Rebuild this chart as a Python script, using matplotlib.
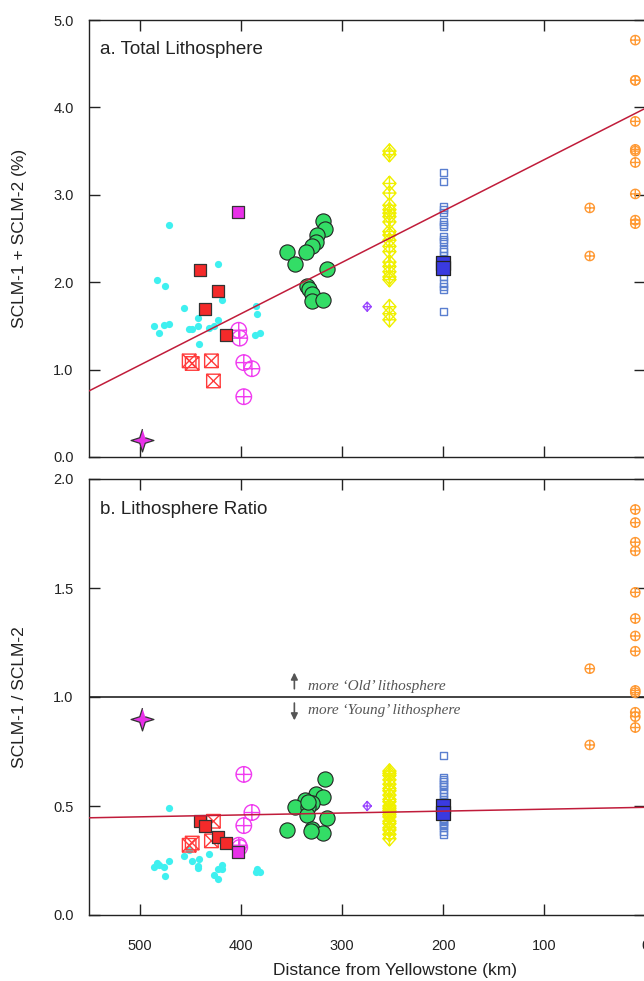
import numpy as np
import matplotlib
matplotlib.use("Agg")
import matplotlib.pyplot as plt
from matplotlib.path import Path

plt.rcParams['font.family'] = ['Liberation Sans', 'DejaVu Sans']

# ---- data (distance in km, a = SCLM-1 + SCLM-2 (%), b = SCLM-1 / SCLM-2) ----
cyan_km_a = [470.6, 422.8, 483.1, 474.9, 418.9, 385.2, 383.7, 456.4, 442.3, 422.8, 485.5,
             475.9, 470.9, 481.1, 450.9, 448.5, 442.3, 431.1, 426.5, 441.3, 385.9, 381.0]
cyan_a = [2.66, 2.21, 2.03, 1.96, 1.80, 1.73, 1.64, 1.70, 1.59, 1.57, 1.50,
          1.51, 1.52, 1.42, 1.46, 1.46, 1.50, 1.48, 1.50, 1.29, 1.40, 1.42]
cyan_km_b = [470.6, 485.5, 483.1, 480.8, 475.9, 474.9, 470.9, 456.1, 450.9, 448.2, 442.0,
             442.0, 441.0, 431.1, 426.5, 422.8, 422.8, 418.9, 418.6, 385.2, 381.0, 383.7]
cyan_b = [0.49, 0.22, 0.24, 0.23, 0.22, 0.18, 0.25, 0.27, 0.30, 0.25, 0.225,
          0.217, 0.257, 0.278, 0.185, 0.165, 0.211, 0.211, 0.229, 0.196, 0.196, 0.21]

red_km = [440, 435, 422, 415]
red_a = [2.14, 1.69, 1.90, 1.40]
red_b = [0.43, 0.41, 0.36, 0.33]

magsq_km = [403]
magsq_a = [2.80]
magsq_b = [0.29]

xsq_km = [451, 448, 429, 427]
xsq_a = [1.10, 1.07, 1.10, 0.87]
xsq_b = [0.32, 0.33, 0.34, 0.43]

magop_km = [402, 401, 397, 389, 397]
magop_a = [1.45, 1.36, 1.08, 1.01, 0.69]
magop_b = [0.32, 0.31, 0.645, 0.47, 0.41]

star_km = [498]
star_a = [0.19]
star_b = [0.90]

green_km_a = [318.4, 316.7, 325.0, 326.0, 329.9, 335.8, 354.0, 346.1, 314.8, 334.2, 332.6, 329.9, 329.6, 318.4]
green_a = [2.70, 2.61, 2.54, 2.46, 2.41, 2.35, 2.35, 2.21, 2.15, 1.96, 1.92, 1.86, 1.78, 1.80]
green_km_b = [316.5, 326.0, 318.4, 336.5, 329.9, 346.4, 333.9, 334.2, 315.1, 354.6, 329.9, 318.7, 333.3, 331.0]
green_b = [0.624, 0.553, 0.543, 0.528, 0.512, 0.497, 0.497, 0.46, 0.445, 0.391, 0.393, 0.378, 0.52, 0.387]

purple_km = [275]
purple_a = [1.72]
purple_b = [0.50]

yellow_km = 253
yellow_a = [3.50, 3.46, 3.13, 3.02, 2.88, 2.83, 2.79, 2.75, 2.69, 2.58, 2.54,
            2.48, 2.41, 2.35, 2.23, 2.18, 2.12, 2.06, 2.03, 1.72, 1.64, 1.57]
yellow_b = [0.66, 0.65, 0.64, 0.62, 0.60, 0.58, 0.57, 0.55, 0.53, 0.52, 0.50,
            0.49, 0.48, 0.47, 0.46, 0.45, 0.43, 0.42, 0.40, 0.39, 0.37, 0.35]

blue_km = 200
blue_a = [3.26, 3.15, 2.86, 2.83, 2.80, 2.69, 2.66, 2.64, 2.52, 2.49, 2.46, 2.39,
          2.35, 2.31, 2.25, 2.21, 2.17, 2.14, 2.06, 1.98, 1.95, 1.92, 1.66]
blue_b = [0.73, 0.63, 0.62, 0.61, 0.60, 0.59, 0.575, 0.56, 0.545, 0.53, 0.52, 0.50,
          0.49, 0.47, 0.46, 0.45, 0.44, 0.43, 0.42, 0.41, 0.40, 0.385, 0.37]
bluefill_a = [2.22, 2.16]
bluefill_b = [0.50, 0.47]

orange_km_near = 10
orange_km_far = 55
orange_near_a = [4.77, 4.31, 4.31, 3.84, 3.52, 3.50, 3.37, 3.01, 2.71, 2.67]
orange_far_a = [2.85, 2.30]
orange_near_b = [1.86, 1.80, 1.71, 1.67, 1.48, 1.36, 1.28, 1.21, 1.03, 1.02, 0.93, 0.91, 0.86]
orange_far_b = [1.13, 0.78]

# regression lines (intercept at 0 km, slope per km)
fit_a = (3.99, -0.00588)
fit_b = (0.494, -0.0000875)

# ---- custom markers ----
M, L, C = Path.MOVETO, Path.LINETO, Path.CLOSEPOLY
circle_plus = Path.make_compound_path(Path.unit_circle(),
                                      Path([(-1, 0), (1, 0)], [M, L]),
                                      Path([(0, -1), (0, 1)], [M, L]))
square_x = Path([(-1, -1), (1, -1), (1, 1), (-1, 1), (-1, -1), (-1, -1), (1, 1), (-1, 1), (1, -1)],
                [M, L, L, L, C, M, L, M, L])
diamond_plus = Path([(0, 1), (0.9, 0), (0, -1), (-0.9, 0), (0, 1), (-0.9, 0), (0.9, 0), (0, -1), (0, 1)],
                    [M, L, L, L, C, M, L, M, L])
ang = np.deg2rad(np.arange(0, 360, 45) + 90)
rad = np.array([1, 0.34] * 4)
star4 = Path(np.column_stack([rad * np.cos(ang), rad * np.sin(ang)]), closed=False)


def draw(ax, cyan_km, cyan, red, magsq, xsq, magop, star, green_km, green, purple, yellow, blue,
         bluefill, onear, ofar):
    ax.scatter(cyan_km, cyan, s=27, c='#3ff0f0', linewidths=0, zorder=3)
    ax.scatter(xsq_km, xsq, s=95, marker=square_x, facecolors='none', edgecolors='#ff3b3b', linewidths=1, zorder=3)
    ax.scatter(magop_km, magop, s=125, marker=circle_plus, facecolors='none', edgecolors='#f03cf0', linewidths=1, zorder=3)
    ax.scatter(red_km, red, s=85, marker='s', c='#f42a2a', edgecolors='#333333', linewidths=0.9, zorder=4)
    ax.scatter(magsq_km, magsq, s=85, marker='s', c='#e830e8', edgecolors='#333333', linewidths=0.9, zorder=4)
    ax.scatter(star_km, star, s=270, marker=star4, c='#e830e8', edgecolors='#333333', linewidths=0.9, zorder=4)
    ax.scatter(green_km, green, s=120, c='#33dd66', edgecolors='#222222', linewidths=0.8, zorder=4)
    ax.scatter(purple_km, purple, s=45, marker=diamond_plus, facecolors='none', edgecolors='#9944ff', linewidths=0.9, zorder=3)
    ax.scatter([yellow_km] * len(yellow), yellow, s=110, marker=diamond_plus, facecolors='none',
               edgecolors='#f0f000', linewidths=1, zorder=3)
    ax.scatter([blue_km] * len(blue), blue, s=26, marker='s', facecolors='none', edgecolors='#5a7fd0', linewidths=1, zorder=3)
    ax.scatter([blue_km] * len(bluefill), bluefill, s=90, marker='s', c='#3a3ae0', edgecolors='#222222', linewidths=0.9, zorder=4)
    ax.scatter([orange_km_near] * len(onear), onear, s=45, marker=circle_plus, facecolors='none',
               edgecolors='#ff9933', linewidths=1, zorder=3)
    ax.scatter([orange_km_far] * len(ofar), ofar, s=45, marker=circle_plus, facecolors='none',
               edgecolors='#ff9933', linewidths=1, zorder=3)


fig = plt.figure(figsize=(6.44, 9.81), dpi=100)
W, H = 644, 981
left, right = 89, 645.4
ax1 = fig.add_axes([left / W, 1 - 457 / H, (right - left) / W, 437 / H])
ax2 = fig.add_axes([left / W, 1 - 915 / H, (right - left) / W, 436 / H])

draw(ax1, cyan_km_a, cyan_a, red_a, magsq_a, xsq_a, magop_a, star_a, green_km_a, green_a, purple_a,
     yellow_a, blue_a, bluefill_a, orange_near_a, orange_far_a)
draw(ax2, cyan_km_b, cyan_b, red_b, magsq_b, xsq_b, magop_b, star_b, green_km_b, green_b, purple_b,
     yellow_b, blue_b, bluefill_b, orange_near_b, orange_far_b)

xs = np.array([550, 0])
ax1.plot(xs, fit_a[0] + fit_a[1] * xs, color='#c01c3a', lw=1.1, zorder=5)
ax2.plot(xs, fit_b[0] + fit_b[1] * xs, color='#c01c3a', lw=1.1, zorder=5)
ax2.axhline(1.0, color='#222222', lw=1.2, zorder=2)

# annotation around ratio = 1
ax2.annotate('', xy=(347, 1.125), xytext=(347, 1.025),
             arrowprops=dict(arrowstyle='-|>', color='#555555', lw=1.2, mutation_scale=10))
ax2.annotate('', xy=(347, 0.88), xytext=(347, 0.985),
             arrowprops=dict(arrowstyle='-|>', color='#555555', lw=1.2, mutation_scale=10))
ax2.text(334, 1.05, 'more \u2018Old\u2019 lithosphere', fontsize=11, style='italic', color='#555555',
         family=['Liberation Serif', 'DejaVu Serif'], va='center', ha='left')
ax2.text(334, 0.94, 'more \u2018Young\u2019 lithosphere', fontsize=11, style='italic', color='#555555',
         family=['Liberation Serif', 'DejaVu Serif'], va='center', ha='left')

for ax in (ax1, ax2):
    ax.set_xlim(550, 0)
    ax.set_xticks([500, 400, 300, 200, 100, 0])
    ax.tick_params(direction='in', length=8, width=1, top=True, right=True, labelsize=10.5, colors='#222222')
    ax.tick_params(axis='x', pad=17)
    ax.tick_params(axis='y', pad=11)
    for sp in ax.spines.values():
        sp.set_linewidth(1)
        sp.set_color('#222222')

ax1.set_ylim(0, 5)
ax1.set_yticks([0, 1, 2, 3, 4, 5])
ax1.set_yticklabels(['0.0', '1.0', '2.0', '3.0', '4.0', '5.0'])
ax1.tick_params(axis='x', labelbottom=False)
ax2.set_ylim(0, 2)
ax2.set_yticks([0, 0.5, 1.0, 1.5, 2.0])
ax2.set_yticklabels(['0.0', '0.5', '1.0', '1.5', '2.0'])
ax2.set_xticklabels(['500', '400', '300', '200', '100', '0'])

ax1.text(0.02, 0.932, 'a. Total Lithosphere', transform=ax1.transAxes, fontsize=13.5, va='center', ha='left', color='#222222')
ax2.text(0.02, 0.93, 'b. Lithosphere Ratio', transform=ax2.transAxes, fontsize=13.5, va='center', ha='left', color='#222222')

fig.text(20 / W, 1 - 238 / H, 'SCLM-1 + SCLM-2 (%)', rotation=90, fontsize=12.5, ha='center', va='center', color='#222222')
fig.text(20 / W, 1 - 697 / H, 'SCLM-1 / SCLM-2', rotation=90, fontsize=12.5, ha='center', va='center', color='#222222')
fig.text(395 / W, 1 - 970 / H, 'Distance from Yellowstone (km)', fontsize=12.5, ha='center', va='center', color='#222222')

fig.savefig('out.png', dpi=100)
